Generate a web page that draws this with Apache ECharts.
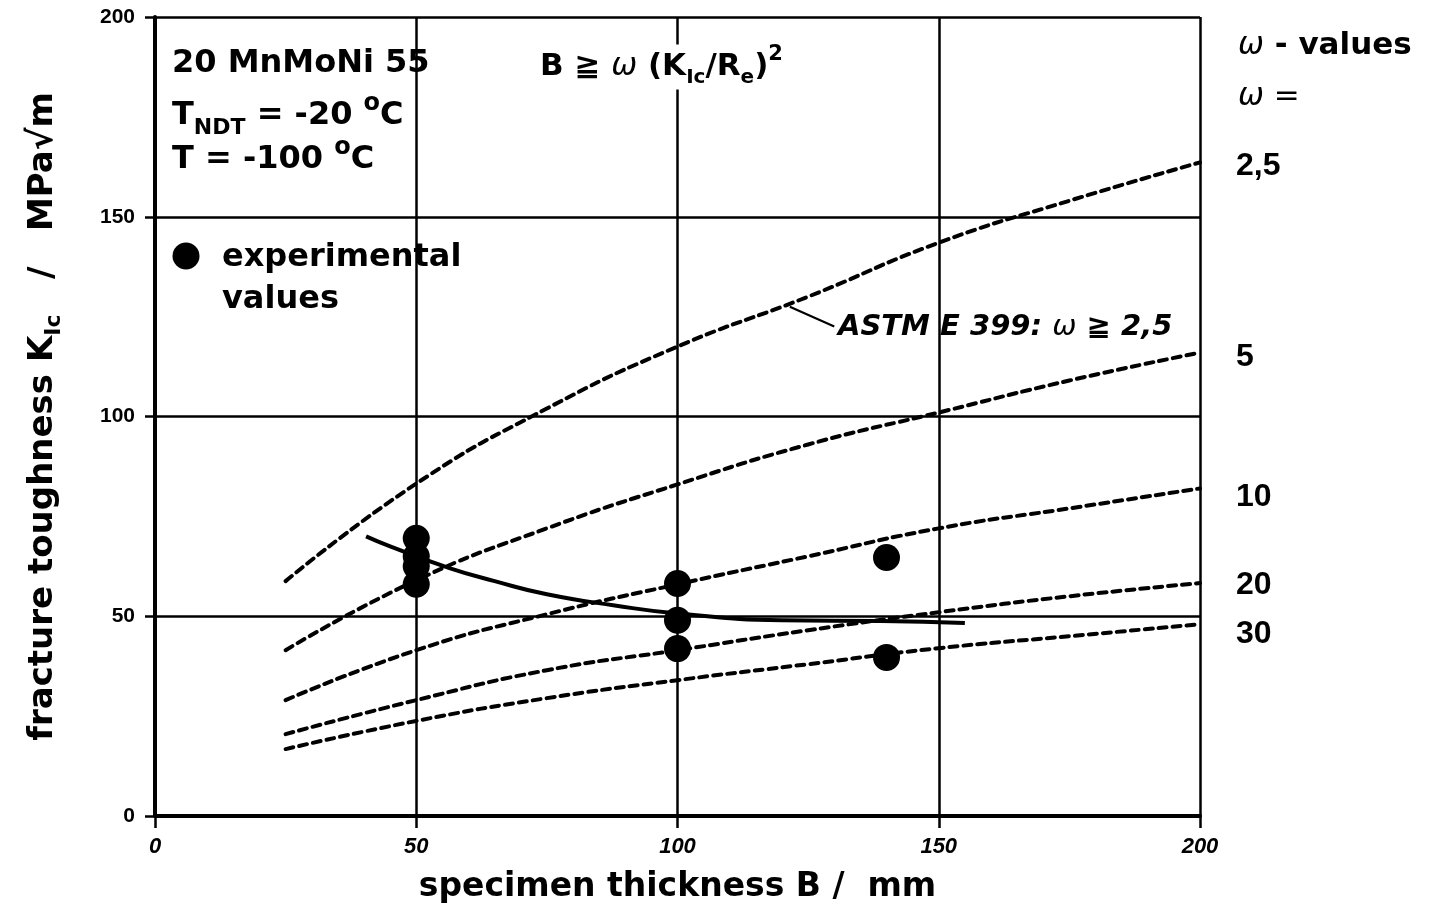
<!DOCTYPE html>
<html><head><meta charset="utf-8">
<script src="https://cdn.jsdelivr.net/npm/echarts@6/dist/echarts.min.js"></script>
<style>html,body{margin:0;padding:0;background:#fff}#c{width:1436px;height:912px}</style>
</head><body><div id="c"></div>
<script>
// ---- data ----
const xTicks = [0, 50, 100, 150, 200];
const yTicks = [0, 50, 100, 150, 200];
const omegaLabels = ['2,5', '5', '10', '20', '30'];
const curveB = [25, 50, 75, 100, 125, 150, 175, 200];
const kOmega2_5 = [58.8, 83.2, 102, 117.5, 130, 143.5, 154, 163.6];
const kOmega5   = [41.5, 59, 72, 83, 93, 101, 109, 116];
const kOmega10  = [29, 41.5, 50.5, 58, 65, 72, 77, 82];
const kOmega20  = [20.5, 29, 36.5, 41.5, 46.5, 51, 55, 58.3];
const kOmega30  = [16.75, 23.8, 29.5, 34, 38, 42, 45, 48];
const trendB = [40.4, 45, 56.5, 65, 75, 88, 100, 120, 139, 155];
const trendK = [70, 67.5, 62, 58.8, 55.5, 52.7, 50.7, 49, 48.8, 48.3];
const expB = [50, 50, 50, 50, 100, 100, 100, 140, 140];
const expK = [69.5, 65, 62.5, 58, 58.2, 49, 41.9, 64.7, 39.7];
const leaderB = [121.5, 130];
const leaderK = [127.5, 122.5];

const TXT = '"DejaVu Sans", "Noto Sans CJK SC", sans-serif';
const NUM = '"Liberation Sans", Arial, sans-serif';
const zip = (a, b) => a.map((v, i) => [v, b[i]]);

const omegaSeries = [kOmega2_5, kOmega5, kOmega10, kOmega20, kOmega30];
const labelOffsets = [[0, 4], [0, 5], [0, 9], [0, 2], [0, 10]];

const series = omegaSeries.map((k, i) => ({
  type: 'line', name: 'ω=' + omegaLabels[i], data: zip(curveB, k), smooth: true,
  symbol: 'none', silent: true,
  lineStyle: { color: '#000', width: 4, type: [8, 6], cap: 'round' },
  endLabel: { show: true, formatter: omegaLabels[i], distance: 36, offset: labelOffsets[i],
    color: '#000', fontFamily: NUM, fontWeight: 'bold', fontSize: 32 }
}));
series.push({
  type: 'line', name: 'trend', data: zip(trendB, trendK), smooth: true, symbol: 'none',
  lineStyle: { color: '#000', width: 4 }
});
series.push({
  type: 'line', name: 'leader', data: zip(leaderB, leaderK), symbol: 'none',
  lineStyle: { color: '#000', width: 2.2 }
});
series.push({
  type: 'scatter', name: 'experimental values', data: zip(expB, expK), symbolSize: 27,
  itemStyle: { color: '#000', opacity: 1 }, z: 5
});

const chart = echarts.init(document.getElementById('c'), null, { renderer: 'canvas' });
const bold = (size) => ({ fontFamily: TXT, fontWeight: 'bold', fontSize: size, fill: '#000' });

chart.setOption({
  animation: false,
  backgroundColor: '#fff',
  grid: { left: 155, right: 236, top: 17, bottom: 96 },
  xAxis: {
    type: 'value', min: xTicks[0], max: xTicks[xTicks.length - 1], interval: 50,
    axisLine: { show: true, onZero: false, lineStyle: { color: '#000', width: 4 } },
    axisTick: { show: true, length: 12, lineStyle: { color: '#000', width: 2.5 } },
    axisLabel: { margin: 20, color: '#000', fontFamily: NUM, fontWeight: 'bold', fontStyle: 'italic', fontSize: 22 },
    splitLine: { show: true, lineStyle: { color: '#000', width: 2.5 } },
    name: 'specimen thickness B /  mm', nameLocation: 'middle', nameGap: 55,
    nameTextStyle: { color: '#000', fontFamily: TXT, fontWeight: 'bold', fontSize: 33 }
  },
  yAxis: {
    type: 'value', min: yTicks[0], max: yTicks[yTicks.length - 1], interval: 50,
    axisLine: { show: true, onZero: false, lineStyle: { color: '#000', width: 4 } },
    axisTick: { show: true, length: 10, lineStyle: { color: '#000', width: 2.5 } },
    axisLabel: { margin: 20, color: '#000', fontFamily: NUM, fontWeight: 'bold', fontSize: 21 },
    splitLine: { show: true, lineStyle: { color: '#000', width: 2.5 } },
    name: '{a|fracture toughness K}{s|Ic}{a|   /   MPa√m}', nameLocation: 'middle', nameGap: 90, nameRotate: 90,
    nameTextStyle: {
      rich: {
        a: { color: '#000', fontFamily: TXT, fontWeight: 'bold', fontSize: 34 },
        s: { color: '#000', fontFamily: TXT, fontWeight: 'bold', fontSize: 22, padding: [22, 0, 0, 0] }
      }
    }
  },
  series: series,
  graphic: [
    { type: 'text', z: 10, style: Object.assign(bold(32), { x: 172, y: 64, text: '20 MnMoNi 55', verticalAlign: 'middle' }) },
    { type: 'text', z: 10, style: { x: 172, y: 116, verticalAlign: 'middle',
      text: '{m|T}{s|NDT}{m| = -20 }{p|o}{m|C}',
      rich: { m: bold(32), s: Object.assign(bold(22), { padding: [24, 0, 0, 0] }), p: Object.assign(bold(24), { padding: [0, 0, 24, 0] }) } } },
    { type: 'text', z: 10, style: { x: 172, y: 160, verticalAlign: 'middle',
      text: '{m|T = -100 }{p|o}{m|C}',
      rich: { m: bold(32), p: Object.assign(bold(24), { padding: [0, 0, 24, 0] }) } } },
    { type: 'text', z: 10, style: { x: 540, y: 67, verticalAlign: 'middle', backgroundColor: '#fff',
      text: '{b|B ≧ }{w|ω}{b| (K}{s|Ic}{b|/R}{s|e}{b|)}{p|2}',
      rich: { b: bold(31), w: { fontFamily: TXT, fontStyle: 'italic', fontSize: 31, fill: '#000' },
        s: Object.assign(bold(20), { padding: [22, 0, 0, 0] }), p: Object.assign(bold(21), { padding: [0, 0, 24, 0] }) } } },
    { type: 'circle', z: 10, shape: { cx: 186, cy: 256, r: 13.5 }, style: { fill: '#000' } },
    { type: 'text', z: 10, style: Object.assign(bold(32), { x: 222, y: 258, text: 'experimental', verticalAlign: 'middle' }) },
    { type: 'text', z: 10, style: Object.assign(bold(32), { x: 222, y: 300, text: 'values', verticalAlign: 'middle' }) },
    { type: 'text', z: 10, style: { x: 838, y: 327, verticalAlign: 'middle',
      text: '{a|ASTM E 399: }{w|ω}{a| ≧ 2,5}',
      rich: { a: Object.assign(bold(29), { fontStyle: 'italic' }), w: { fontFamily: TXT, fontStyle: 'italic', fontSize: 29, fill: '#000' } } } },
    { type: 'text', z: 10, style: { x: 1238, y: 46, verticalAlign: 'middle',
      text: '{w|ω}{b| - values}',
      rich: { b: bold(31), w: { fontFamily: TXT, fontStyle: 'italic', fontSize: 31, fill: '#000' } } } },
    { type: 'text', z: 10, style: { x: 1238, y: 97, verticalAlign: 'middle',
      text: 'ω =', fontFamily: TXT, fontStyle: 'italic', fontSize: 31, fill: '#000' } }
  ]
});
</script></body></html>
